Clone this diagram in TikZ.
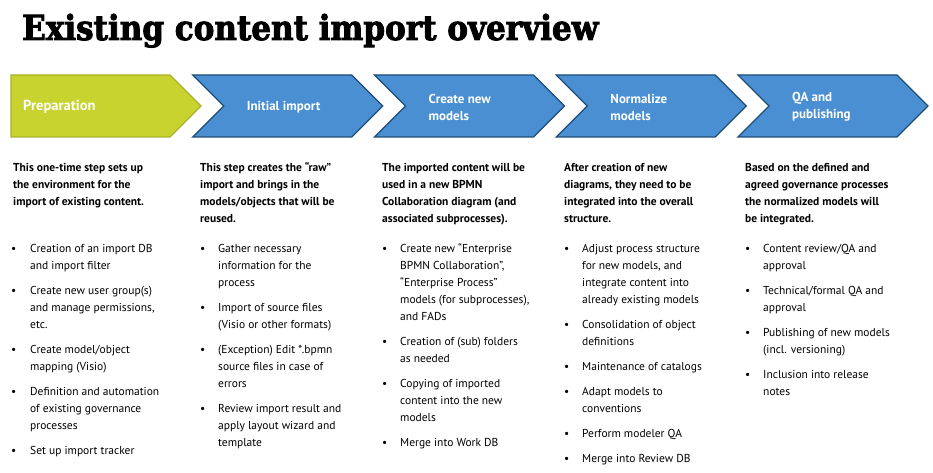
\documentclass[tikz,border=0pt]{standalone}
\usepackage{fontspec}
\setmainfont{PT Sans}
\newfontfamily\titlefont[FakeBold=2.5]{DejaVu Serif Condensed}
\definecolor{prepgreen}{HTML}{C8D32F}
\definecolor{prepedge}{HTML}{A6B22B}
\definecolor{stepblue}{HTML}{4A8FD2}
\definecolor{stepedge}{HTML}{1E4D78}
\tikzset{
	stepbox/.style={fill=stepblue,draw=stepedge,line width=1.3pt,line join=miter},
	prepbox/.style={fill=prepgreen,draw=prepedge,line width=1.3pt,line join=miter},
	steplabel/.style={anchor=west,align=left,text=white,inner sep=0pt,font=\fontsize{13}{17}\selectfont\bfseries},
	colhead/.style={anchor=north west,inner sep=0pt,font=\fontsize{11.5}{17}\selectfont\bfseries},
	collist/.style={anchor=north west,inner sep=0pt,font=\fontsize{11.5}{17}\selectfont}
}
\newcommand{\gap}{\\[8pt]}
\begin{document}
\begin{tikzpicture}[x=1pt,y=-1pt]
	\useasboundingbox (0,0) rectangle (933,473);
	\node[anchor=base west,inner sep=0pt,font=\titlefont\bfseries\fontsize{34.5}{34.5}\selectfont] (title) at (22,40) {Existing content import overview};
	% process chevrons
	\draw[prepbox] (11,75) -- ++(159,0) -- ++(31,31) -- ++(-31,31) -- ++(-159,0) -- cycle;
	\node[steplabel,font=\fontsize{14.5}{17}\selectfont\bfseries] (st0) at (23,107) {Preparation};
	\foreach \i/\lbl in {1/{Initial import},2/{Create new\\models},3/{Normalize\\models},4/{QA and\\publishing}}{
		\pgfmathsetmacro{\xa}{11+181.75*\i}
		\draw[stepbox] (\xa,75) -- ++(159,0) -- ++(31,31) -- ++(-31,31) -- ++(-159,0) -- ++(31,-31) -- cycle;
		\node[steplabel] (st\i) at (\xa+54,107) {\lbl};
	}
	% descriptions
	\node[colhead] (hd0) at (13,159) {\begin{tabular}{@{}l@{}}This one-time step sets up\\the environment for the\\import of existing content.\end{tabular}};
	\node[colhead] (hd1) at (200,159) {\begin{tabular}{@{}l@{}}This step creates the ``raw''\\import and brings in the\\models/objects that will be\\reused.\end{tabular}};
	\node[colhead] (hd2) at (382,159) {\begin{tabular}{@{}l@{}}The imported content will be\\used in a new BPMN\\Collaboration diagram (and\\associated subprocesses).\end{tabular}};
	\node[colhead] (hd3) at (564,159) {\begin{tabular}{@{}l@{}}After creation of new\\diagrams, they need to be\\integrated into the overall\\structure.\end{tabular}};
	\node[colhead] (hd4) at (745,159) {\begin{tabular}{@{}l@{}}Based on the defined and\\agreed governance processes\\the normalized models will\\be integrated.\end{tabular}};
	% task lists
	\node[collist] (lst0) at (11,240) {\begin{tabular}{@{}p{19pt}@{}l@{}}
		\textbullet & Creation of an import DB\\ & and import filter\gap
		\textbullet & Create new user group(s)\\ & and manage permissions,\\ & etc.\gap
		\textbullet & Create model/object\\ & mapping (Visio)\gap
		\textbullet & Definition and automation\\ & of existing governance\\ & processes\gap
		\textbullet & Set up import tracker
	\end{tabular}};
	\node[collist] (lst1) at (200,240) {\begin{tabular}{@{}p{18pt}@{}l@{}}
		\textbullet & Gather necessary\\ & information for the\\ & process\gap
		\textbullet & Import of source files\\ & (Visio or other formats)\gap
		\textbullet & (Exception) Edit *.bpmn\\ & source files in case of\\ & errors\gap
		\textbullet & Review import result and\\ & apply layout wizard and\\ & template
	\end{tabular}};
	\node[collist] (lst2) at (382,240) {\begin{tabular}{@{}p{18pt}@{}l@{}}
		\textbullet & Create new ``Enterprise\\ & BPMN Collaboration'',\\ & ``Enterprise Process''\\ & models (for subprocesses),\\ & and FADs\gap
		\textbullet & Creation of (sub) folders\\ & as needed\gap
		\textbullet & Copying of imported\\ & content into the new\\ & models\gap
		\textbullet & Merge into Work DB
	\end{tabular}};
	\node[collist] (lst3) at (564,240) {\begin{tabular}{@{}p{18pt}@{}l@{}}
		\textbullet & Adjust process structure\\ & for new models, and\\ & integrate content into\\ & already existing models\gap
		\textbullet & Consolidation of object\\ & definitions\gap
		\textbullet & Maintenance of catalogs\gap
		\textbullet & Adapt models to\\ & conventions\gap
		\textbullet & Perform modeler QA\gap
		\textbullet & Merge into Review DB
	\end{tabular}};
	\node[collist] (lst4) at (745,240) {\begin{tabular}{@{}p{18pt}@{}l@{}}
		\textbullet & Content review/QA and\\ & approval\gap
		\textbullet & Technical/formal QA and\\ & approval\gap
		\textbullet & Publishing of new models\\ & (incl. versioning)\gap
		\textbullet & Inclusion into release\\ & notes
	\end{tabular}};
\end{tikzpicture}
\end{document}
